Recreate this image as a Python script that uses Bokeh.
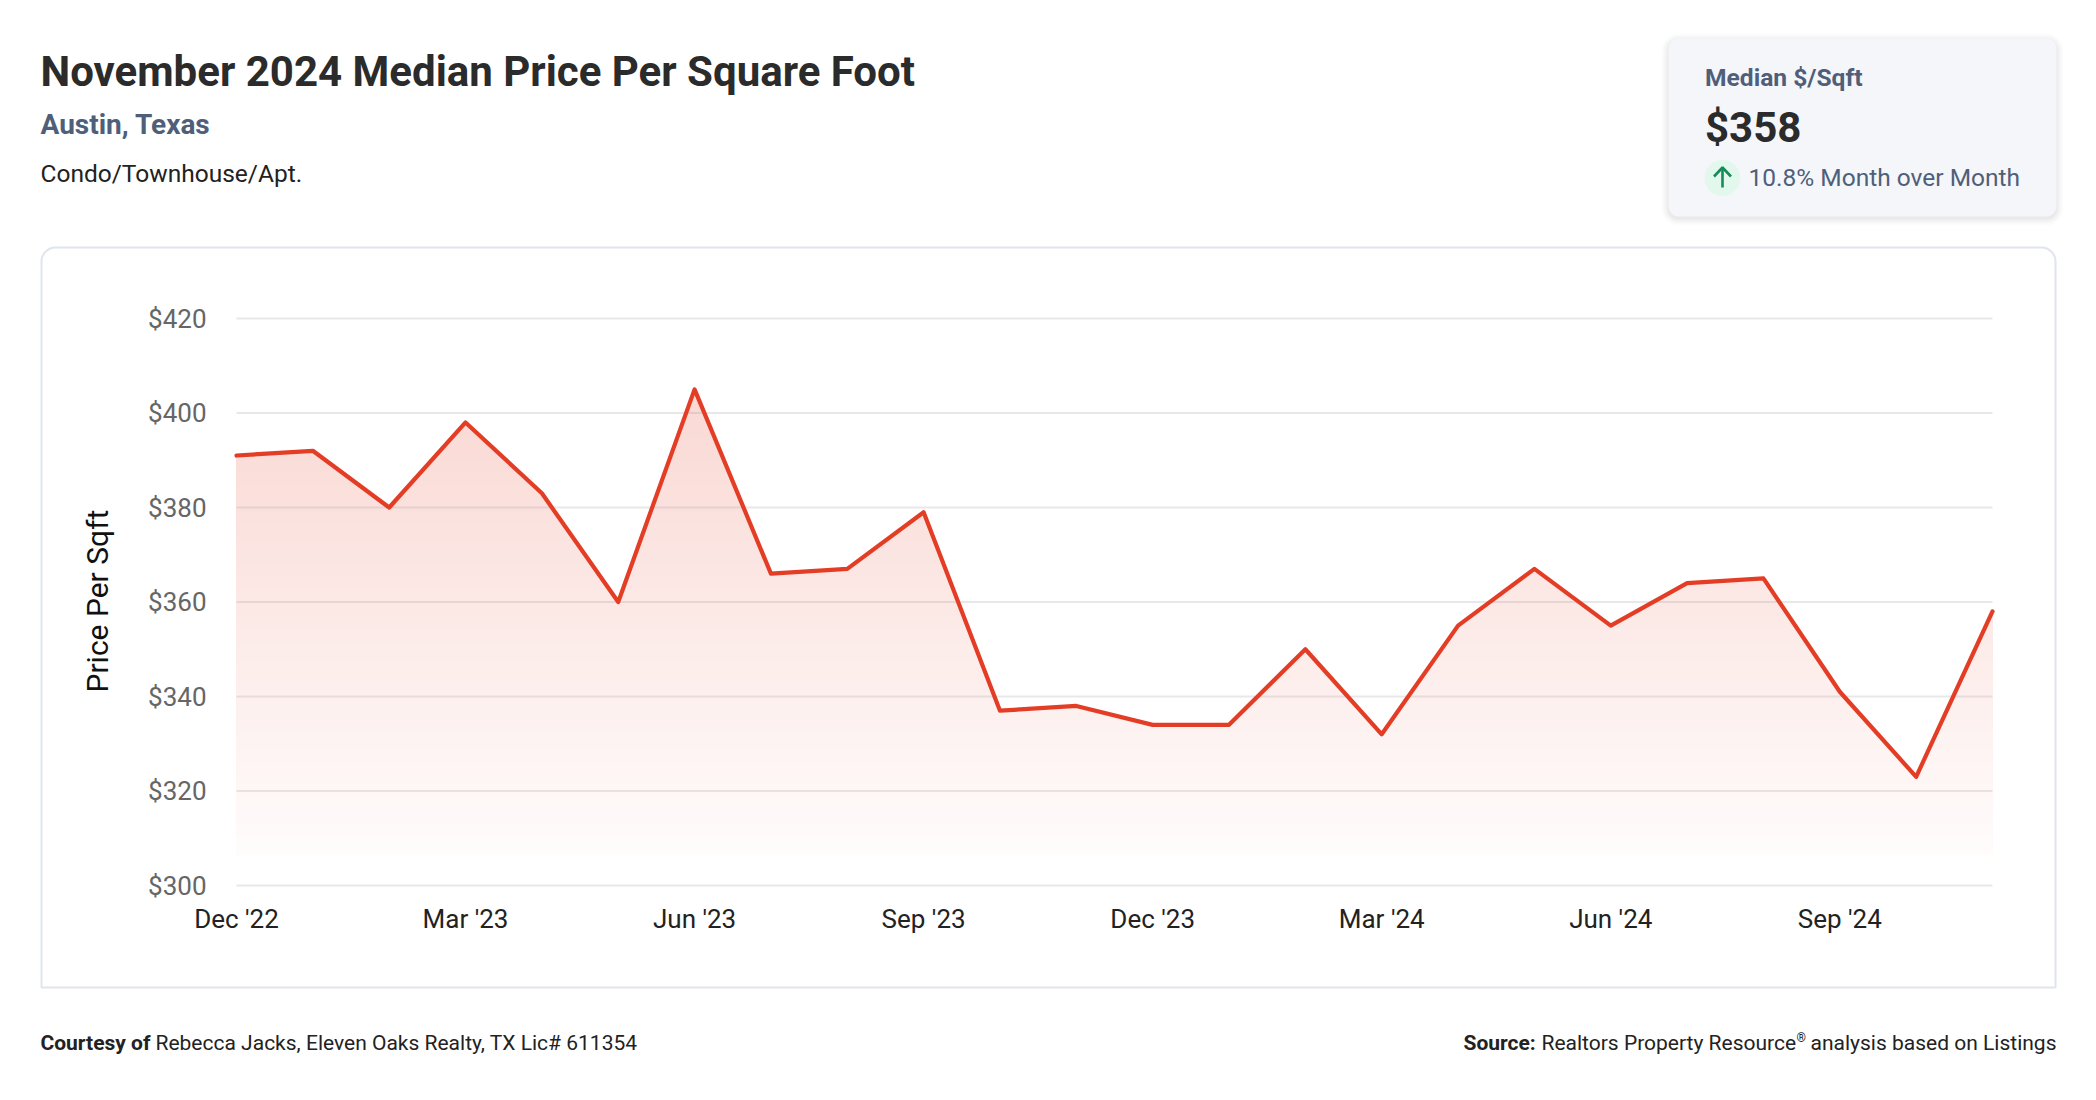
import numpy as np
from bokeh.plotting import figure
from bokeh.embed import file_html
from bokeh.resources import INLINE
from bokeh.models import Label, BoxAnnotation, FixedTicker, Range1d

PRICE = [391, 392, 380, 398, 383, 360, 405, 366, 367, 379, 337, 338,
         334, 334, 350, 332, 355, 367, 355, 364, 365, 341, 323, 358]
X_TICKS = [0, 3, 6, 9, 12, 15, 18, 21]
X_LABELS = ["Dec '22", "Mar '23", "Jun '23", "Sep '23", "Dec '23", "Mar '24", "Jun '24", "Sep '24"]
Y_TICKS = [300, 320, 340, 360, 380, 400, 420]

FONT = "Roboto"
W, H = 2080, 1084
PX_L, PX_R, PX_T, PX_B = 236, 1992, 318, 885   # where the plot area sits on the page
UX = (PX_R - PX_L) / (len(PRICE) - 1)
UY = (PX_B - PX_T) / (Y_TICKS[-1] - Y_TICKS[0])
FILL_FLOOR = 306.3            # gradient stops short of the baseline
RED = (228, 61, 37)

# the frame fills the canvas; a second pair of ranges addresses it in page pixels
p = figure(width=W, height=H, output_backend="svg", toolbar_location=None, min_border=0,
           x_range=Range1d(-PX_L / UX, len(PRICE) - 1 + (W - PX_R) / UX),
           y_range=Range1d(Y_TICKS[0] - (H - PX_B) / UY, Y_TICKS[-1] + PX_T / UY),
           background_fill_color="white", border_fill_color="white", outline_line_color=None)
p.extra_x_ranges["px"] = Range1d(0, W)
p.extra_y_ranges["px"] = Range1d(H, 0)
p.grid.visible = False
PXR = dict(x_range_name="px", y_range_name="px")

# axes, pinned to the plot area
xa, ya = p.xaxis[0], p.yaxis[0]
xa.fixed_location = Y_TICKS[0]
ya.fixed_location = 0
xa.ticker = FixedTicker(ticks=X_TICKS)
xa.major_label_overrides = {t: l for t, l in zip(X_TICKS, X_LABELS)}
ya.ticker = FixedTicker(ticks=Y_TICKS)
ya.major_label_overrides = {t: f"${t}" for t in Y_TICKS}
for a in (xa, ya):
    a.axis_line_color = None
    a.major_tick_line_color = None
    a.minor_tick_line_color = None
    a.major_tick_out = 0
    a.major_tick_in = 0
    a.major_label_text_font = FONT
    a.major_label_text_font_size = "26px"
xa.major_label_text_color = "#222222"
xa.major_label_standoff = 18
ya.major_label_text_color = "#666666"
ya.major_label_standoff = 30


def box(l, t, r, b, **kw):
    p.add_layout(BoxAnnotation(left=l, right=r, top=t, bottom=b, level="underlay", **PXR, **kw))


def txt(s, px, py, size, color="#222222", weight="normal", align="left", angle=0):
    p.add_layout(Label(x=px, y=py, text=s, **PXR,
                       text_font=FONT, text_font_size=f"{size}px", text_color=color,
                       text_font_style=weight, text_align=align, text_baseline="alphabetic",
                       angle=angle, angle_units="deg"))


# chart panel (rounded on top only)
box(41, 247, 2055, 987, fill_color="white", fill_alpha=1, line_color="#dfe4ed", line_alpha=1, line_width=2,
    border_radius=dict(top_left=14, top_right=14, bottom_right=0, bottom_left=0))

# stat card with soft shadow
for g, a in ((7, 0.012), (5, 0.018), (3, 0.025), (1, 0.03)):
    box(1668 - g, 38 - g + 2, 2056 + g, 216 + g + 2, fill_color="black", fill_alpha=a,
        line_color=None, border_radius=10 + g)
box(1668, 38, 2056, 216, fill_color="#f5f6fa", fill_alpha=1, line_color=None, border_radius=10)

# gradient area: opaque steps painted top to bottom, so no seams appear
x = np.arange(len(PRICE), dtype=float)
y = np.array(PRICE, dtype=float)
step = 2 / UY
levels = np.arange(FILL_FLOOR, 406 + step, step)[::-1]
for hi in levels:
    cross = []
    for i in range(len(x) - 1):
        a, b = y[i], y[i + 1]
        if (a - hi) * (b - hi) < 0:
            cross.append(x[i] + (hi - a) / (b - a))
    xs = np.sort(np.concatenate([x, cross]))
    ys = np.minimum(np.interp(xs, x, y), hi)
    t = (hi - FILL_FLOOR) / (405 - FILL_FLOOR)
    alpha = 0.015 + 0.185 * t
    col = tuple(int(round(255 + (c - 255) * alpha)) for c in RED)
    p.varea(x=xs, y1=np.full_like(xs, FILL_FLOOR), y2=ys, fill_color="#%02x%02x%02x" % col)

# grid rules, over the fill
p.segment(x0=[0] * len(Y_TICKS), x1=[len(PRICE) - 1] * len(Y_TICKS), y0=Y_TICKS, y1=Y_TICKS,
          line_color="#8c8c8c", line_alpha=0.2, line_width=2)

p.line(x, y, line_color="#e43d25", line_width=4.2, line_join="round", line_cap="round")

# up-arrow badge
p.scatter([1722], [177.5], size=36, marker="circle", fill_color="#e3f8ec", line_color=None, **PXR)
p.line([1722, 1722], [167, 187], line_color="#178a5a", line_width=2.6, **PXR)
p.line([1713.5, 1722, 1730.5], [176, 167, 176], line_color="#178a5a", line_width=2.6, **PXR)

# headings
txt("November 2024 Median Price Per Square Foot", 40, 70.5, 42, "#2b2b2b", "bold")
txt("Austin, Texas", 40, 124.3, 28, "#4f5f7a", "bold")
txt("Condo/Townhouse/Apt.", 40, 172.6, 24.5, "#222222")

# card text
txt("Median $/Sqft", 1704.5, 76.6, 24.6, "#4f5f7a", "bold")
txt("$358", 1704.5, 127.3, 42, "#2b2b2b", "bold")
txt("10.8% Month over Month", 1748, 177.3, 24.5, "#4f5f7a")

# axis title
txt("Price Per Sqft", 97, 692, 30, "#111111", angle=90)

# footers
txt("Courtesy of", 40, 1042.3, 21, "#222222", "bold")
txt("Rebecca Jacks, Eleven Oaks Realty, TX Lic# 611354", 155, 1042.3, 21, "#222222")
txt("Source:", 1463, 1042.3, 21, "#222222", "bold")
txt("Realtors Property Resource", 1541, 1042.3, 21, "#222222")
txt("\u00ae", 1796, 1037.7, 12, "#222222")
txt("analysis based on Listings", 2056, 1042.3, 21, "#222222", align="right")

open("out.html", "w").write(file_html(p, INLINE))
